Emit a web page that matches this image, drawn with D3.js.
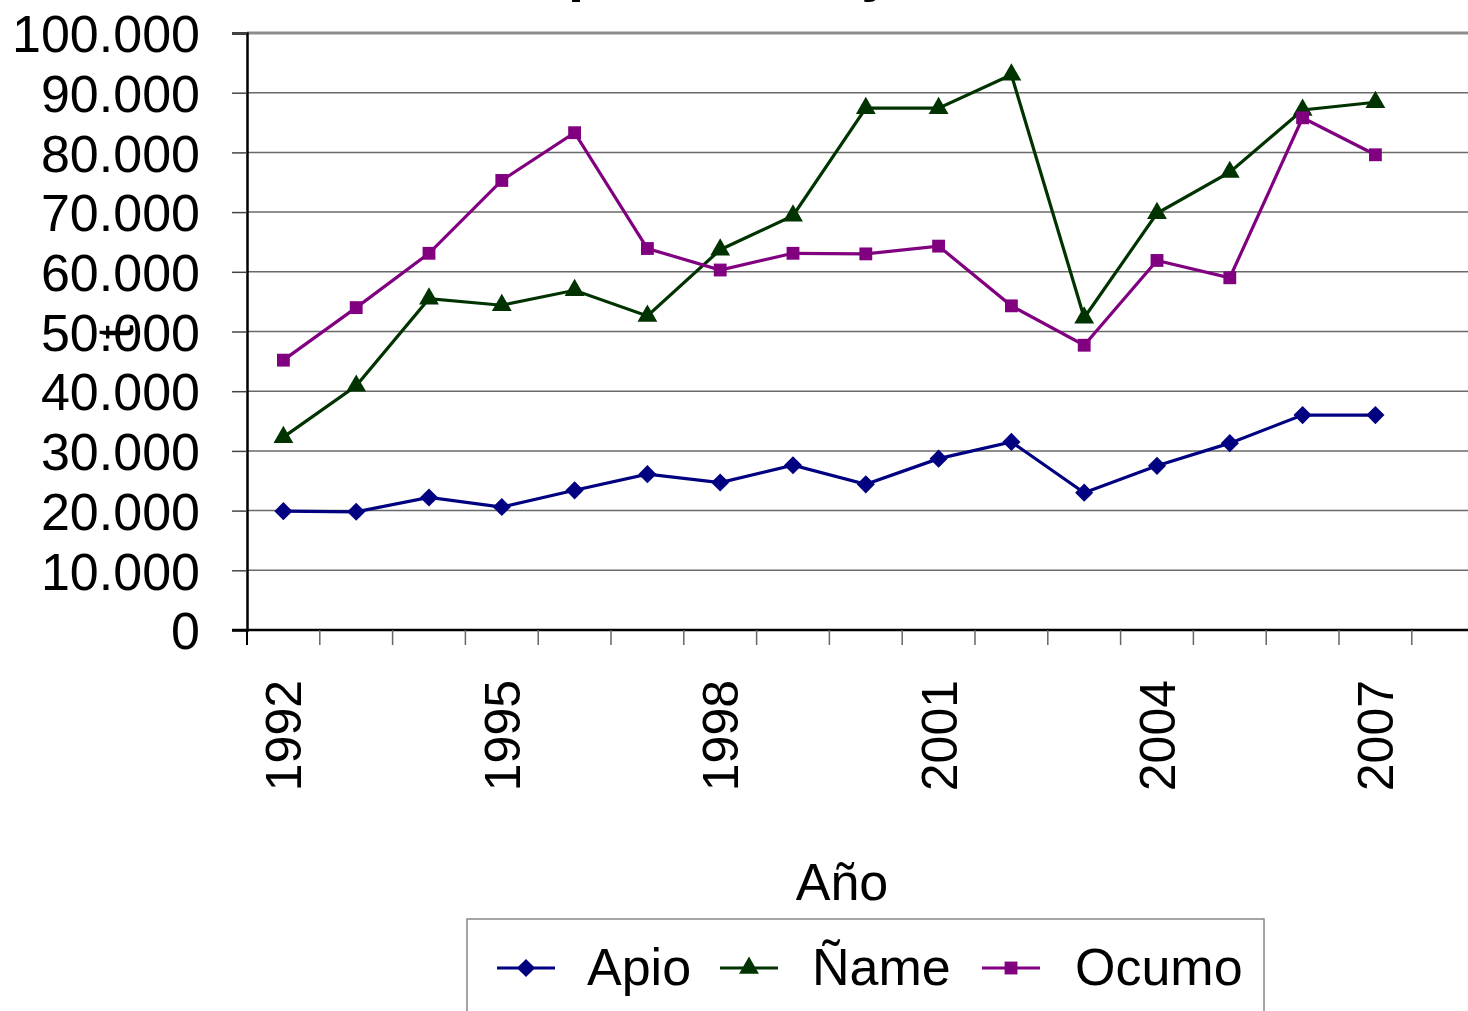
<!DOCTYPE html>
<html><head><meta charset="utf-8">
<script src="https://cdn.jsdelivr.net/npm/d3@7"></script>
<style>html,body{margin:0;padding:0;background:#fff;overflow:hidden}</style>
</head><body>
<svg id="chart" width="1468" height="1011"></svg>
<script>
const years = [1992,1993,1994,1995,1996,1997,1998,1999,2000,2001,2002,2003,2004,2005,2006,2007,2008];
const labelYears = [1992,1995,1998,2001,2004,2007];
const apio  = [19900,19800,22200,20600,23400,26100,24700,27600,24400,28700,31500,23000,27500,31300,36000,36000];
const name_ = [32300,40900,55500,54400,56900,52600,63700,69400,87400,87400,93000,52300,69800,76700,87100,88400];
const ocumo = [45200,54000,63100,75300,83300,63900,60300,63100,63000,64300,54300,47700,61900,59000,85800,79600];
const yTicks = [0,10000,20000,30000,40000,50000,60000,70000,80000,90000,100000];
const seriesNames = ["Apio","Ñame","Ocumo"];
const seriesColors = ["#000080","#003300","#800080"];
const seriesSymbols = [d3.symbolDiamond2, d3.symbolTriangle, d3.symbolSquare];
const titleText = "Apio, Ñame y Ocumo";
const xTitle = "Año";
const yTitle = "t";

const FONT = "'Liberation Sans', Arial, sans-serif";
const svg = d3.select("#chart");
const L = 247, T = 33, B = 630, bw = 72.8;
const R = L + bw * years.length;
const symSize = [210, 170, 165];

const x = d3.scaleBand().domain(years).range([L, R]).padding(0);
const y = d3.scaleLinear().domain([0, 100000]).range([B, T]);
const fmt = v => d3.format(",")(v).replace(/,/g, ".");

// title (mostly cropped, as in the reference)
svg.append("text").attr("x", 526).attr("y", -10)
  .attr("font-family", FONT).attr("font-size", 58).attr("font-weight", "bold")
  .text(titleText);

// gridlines
svg.append("g").selectAll("line").data(yTicks.filter(d => d > 0)).join("line")
  .attr("x1", L).attr("x2", R).attr("y1", d => y(d)).attr("y2", d => y(d))
  .attr("stroke", d => d === 100000 ? "#8c8c8c" : "#6a6a6a")
  .attr("stroke-width", d => d === 100000 ? 3 : 1.5);

// y axis
const yAxis = d3.axisLeft(y).tickValues(yTicks).tickSize(15).tickPadding(32).tickFormat(fmt);
const gy = svg.append("g").attr("transform", `translate(${L},0)`).call(yAxis);
gy.select(".domain").attr("stroke", "#000").attr("stroke-width", 2.5);
gy.selectAll(".tick line").attr("stroke", "#444").attr("stroke-width", 1.5);
gy.selectAll(".tick text").attr("font-family", FONT).attr("font-size", 52).attr("fill", "#000").attr("dy", "0.36em");
svg.append("line").attr("x1", L).attr("x2", L).attr("y1", B).attr("y2", B + 15).attr("stroke", "#000").attr("stroke-width", 2);

// x axis
svg.append("line").attr("x1", L - 15).attr("x2", R).attr("y1", B).attr("y2", B)
  .attr("stroke", "#000").attr("stroke-width", 2.5);
svg.append("g").selectAll("line").data(years.slice(1)).join("line")
  .attr("x1", d => x(d)).attr("x2", d => x(d)).attr("y1", B).attr("y2", B + 15)
  .attr("stroke", "#666").attr("stroke-width", 1.5);
svg.append("g").selectAll("text").data(labelYears).join("text")
  .attr("transform", d => `translate(${x(d) + x.bandwidth() / 2},680) rotate(-90)`)
  .attr("text-anchor", "end").attr("dy", "0.36em")
  .attr("font-family", FONT).attr("font-size", 50).text(d => d);

// axis titles
svg.append("text").attr("x", 842).attr("y", 900).attr("text-anchor", "middle")
  .attr("font-family", FONT).attr("font-size", 52).text(xTitle);
svg.append("text").attr("transform", "translate(133,332) rotate(-90)").attr("text-anchor", "middle")
  .attr("font-family", FONT).attr("font-size", 52).text(yTitle);

// series
const allSeries = [apio, name_, ocumo];
const cx = i => x(years[i]) + x.bandwidth() / 2;
allSeries.forEach((vals, s) => {
  const line = d3.line().x((d, i) => cx(i)).y(d => y(d));
  svg.append("path").datum(vals).attr("d", line).attr("fill", "none")
    .attr("stroke", seriesColors[s]).attr("stroke-width", 3.2).attr("stroke-linejoin", "miter");
  const sym = d3.symbol().type(seriesSymbols[s]).size(symSize[s]);
  svg.append("g").selectAll("path").data(vals).join("path")
    .attr("transform", (d, i) => `translate(${cx(i)},${y(d)})`)
    .attr("d", sym).attr("fill", seriesColors[s]);
});

// legend
svg.append("rect").attr("x", 467).attr("y", 919).attr("width", 797).attr("height", 140)
  .attr("fill", "#fff").attr("stroke", "#888").attr("stroke-width", 1.5);
const legX = [497, 720, 982];
const legTextX = [587, 812, 1075];
seriesNames.forEach((n, s) => {
  const g = svg.append("g");
  g.append("line").attr("x1", legX[s]).attr("x2", legX[s] + 58).attr("y1", 968).attr("y2", 968)
    .attr("stroke", seriesColors[s]).attr("stroke-width", 3.2);
  g.append("path").attr("transform", `translate(${legX[s] + 29},968)`)
    .attr("d", d3.symbol().type(seriesSymbols[s]).size(symSize[s])())
    .attr("fill", seriesColors[s]);
  g.append("text").attr("x", legTextX[s]).attr("y", 985)
    .attr("font-family", FONT).attr("font-size", 52).text(n);
});
</script>
</body></html>
